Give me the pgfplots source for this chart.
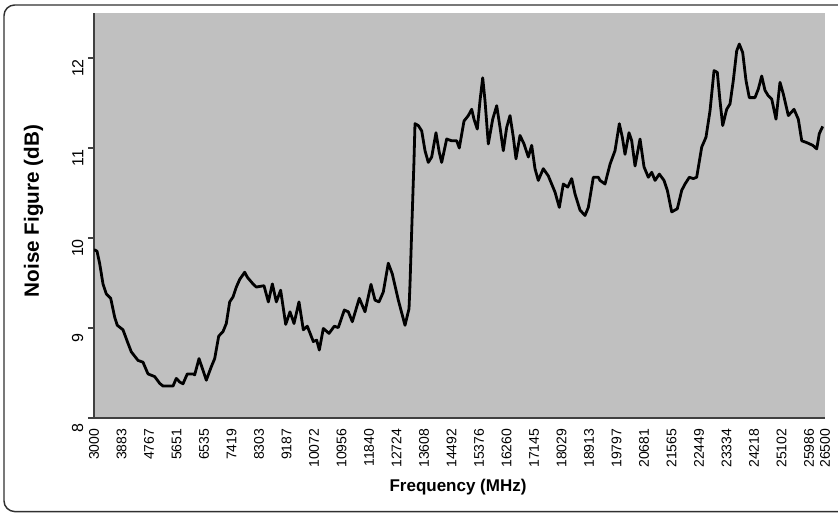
\documentclass[border=0pt]{standalone}
\usepackage{pgfplots}
\pgfplotsset{compat=1.18}
\usepackage{fontspec}
\setmainfont{Liberation Sans}
\definecolor{plotgray}{HTML}{C0C0C0}
\definecolor{axisgray}{HTML}{404040}
\definecolor{framegray}{HTML}{303030}
\begin{document}
\begin{tikzpicture}
\useasboundingbox (0,0) rectangle (628.5pt,386.25pt);
\draw[framegray, line width=1.1pt, rounded corners=8pt] (660pt,382.5pt) -- (3pt,382.5pt) -- (3pt,2.6pt) -- (660pt,2.6pt);
\begin{axis}[
  at={(70.5pt,72.75pt)}, anchor=south west,
  scale only axis, width=548.25pt, height=303.75pt,
  xmin=3000, xmax=26500, ymin=8, ymax=12.5,
  scaled x ticks=false, scaled y ticks=false,
  axis background/.style={fill=plotgray},
  axis x line*=bottom, axis y line*=left,
  axis line style={-, draw=axisgray, line width=1.4pt},
  xtick={3000,3883,4767,5651,6535,7419,8303,9187,10072,10956,11840,12724,13608,14492,15376,16260,17145,18029,18913,19797,20681,21565,22449,23334,24218,25102,25986,26500},
  xticklabels={3000,3883,4767,5651,6535,7419,8303,9187,10072,10956,11840,12724,13608,14492,15376,16260,17145,18029,18913,19797,20681,21565,22449,23334,24218,25102,25986,26500},
  xtick style={draw=none},
  ytick={8,9,10,11,12}, yticklabels={8,9,10,11,12},
  tick align=outside, major tick length=4.5pt,
  ytick style={draw=axisgray, line width=0.8pt},
  xticklabel style={rotate=90, anchor=east, font=\fontsize{10.5}{12}\selectfont, text=black},
  yticklabel style={rotate=90, anchor=south, xshift=-7.5pt, font=\fontsize{12}{14}\selectfont, text=black},
  xlabel={\textbf{Frequency (MHz)}},
  ylabel={\textbf{Noise Figure (dB)}},
  xlabel style={at={(axis description cs:0.498,-0.170)}, anchor=center, font=\fontsize{12.75}{15}\selectfont},
  ylabel style={at={(axis description cs:-0.0828,0.511)}, anchor=center, rotate=0, font=\fontsize{15.5}{18}\selectfont},
  clip=true,
]
\addplot[black, line width=2.1pt, line join=round] table {
3000 9.87
3096 9.855
3183 9.715
3289 9.49
3395 9.38
3537 9.33
3665 9.12
3749 9.03
3932 8.98
4093 8.83
4199 8.735
4415 8.64
4575 8.62
4736 8.49
4951 8.46
5112 8.385
5218 8.355
5540 8.355
5646 8.44
5755 8.40
5861 8.38
5999 8.49
6183 8.49
6237 8.48
6376 8.66
6504 8.53
6610 8.42
6771 8.57
6880 8.66
7009 8.91
7147 8.96
7253 9.05
7362 9.29
7469 9.345
7575 9.455
7684 9.54
7845 9.62
7928 9.565
8111 9.49
8218 9.455
8465 9.47
8605 9.29
8734 9.49
8862 9.29
9000 9.42
9163 9.04
9301 9.18
9430 9.05
9590 9.29
9729 8.98
9857 9.02
10050 8.85
10159 8.865
10243 8.755
10372 8.995
10555 8.94
10725 9.02
10854 9.005
11047 9.20
11175 9.18
11304 9.07
11529 9.33
11712 9.18
11905 9.485
12033 9.31
12162 9.29
12300 9.40
12461 9.72
12590 9.60
12783 9.31
12998 9.03
13127 9.215
13159 9.49
13213 10.08
13287 10.86
13319 11.27
13425 11.25
13535 11.19
13641 10.97
13747 10.84
13856 10.90
13994 11.17
14100 10.95
14177 10.84
14338 11.10
14499 11.08
14660 11.08
14743 11.00
14895 11.30
15033 11.36
15142 11.43
15216 11.32
15322 11.21
15409 11.525
15496 11.78
15570 11.525
15676 11.045
15817 11.32
15946 11.47
16052 11.23
16158 10.97
16267 11.23
16374 11.36
16480 11.12
16566 10.88
16695 11.14
16824 11.045
16962 10.90
17071 11.03
17177 10.77
17283 10.64
17444 10.77
17605 10.69
17820 10.51
17959 10.34
18087 10.60
18229 10.565
18357 10.66
18463 10.49
18624 10.31
18785 10.25
18891 10.34
19052 10.675
19212 10.675
19267 10.64
19428 10.60
19589 10.82
19749 10.97
19888 11.27
19984 11.12
20071 10.93
20199 11.17
20286 11.08
20393 10.80
20553 11.10
20682 10.79
20820 10.675
20930 10.73
21036 10.64
21174 10.71
21324 10.64
21431 10.53
21572 10.29
21752 10.325
21894 10.53
22000 10.60
22138 10.675
22267 10.66
22375 10.675
22536 11.01
22674 11.12
22804 11.415
22932 11.86
23038 11.84
23124 11.525
23211 11.25
23340 11.43
23446 11.49
23552 11.75
23661 12.08
23745 12.155
23854 12.06
23960 11.75
24066 11.56
24249 11.56
24356 11.655
24465 11.80
24571 11.64
24677 11.58
24786 11.545
24925 11.32
25053 11.73
25160 11.60
25321 11.36
25504 11.43
25642 11.32
25752 11.08
25912 11.06
26105 11.03
26233 10.99
26317 11.16
26426 11.24
};
\end{axis}
\end{tikzpicture}
\end{document}
